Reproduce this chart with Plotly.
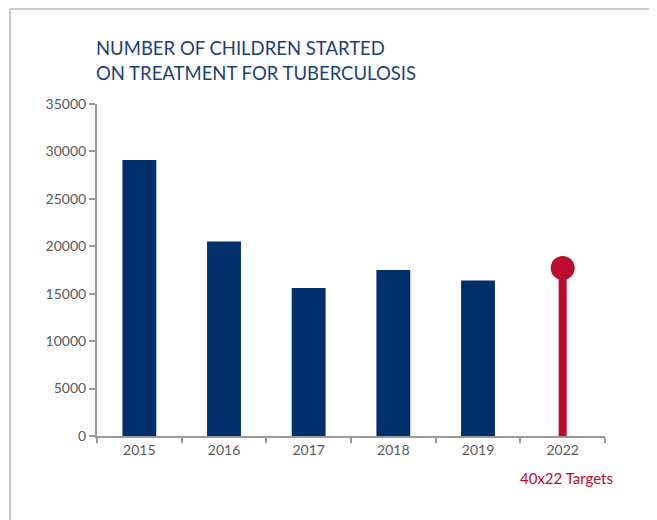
import plotly.graph_objects as go

years = ["2015", "2016", "2017", "2018", "2019", "2022"]
bar_years = ["2015", "2016", "2017", "2018", "2019"]
bar_values = [29100, 20500, 15600, 17500, 16400]
target_year = "2022"
target_value = 17700

title_lines = ["NUMBER OF CHILDREN STARTED", "ON TREATMENT FOR TUBERCULOSIS"]
target_label = "40x22 Targets"

NAVY = "#002F6C"
RED = "#BA0C2F"
AXIS = "#9a9a9a"
TXT = "#595959"
FONT = "Lato, 'Open Sans', sans-serif"

fig = go.Figure()
fig.add_trace(go.Bar(x=bar_years, y=bar_values, marker=dict(color=NAVY, line=dict(width=0)),
                     width=0.4, showlegend=False, hoverinfo="x+y"))
fig.add_trace(go.Scatter(x=[target_year, target_year], y=[0, target_value], mode="lines",
                         line=dict(color=RED, width=8), showlegend=False, hoverinfo="skip"))
fig.add_trace(go.Scatter(x=[target_year], y=[target_value], mode="markers",
                         marker=dict(color=RED, size=24), showlegend=False))

OFF = 8  # page body margin
W, H = 657, 520
L, T = 97 - OFF, 104 - OFF
pw, ph = 508, 332
R = W - L - pw
B = H - T - ph

def px(x):
    return (x - OFF - L) / pw

def py(y):
    return (T + ph - (y - OFF)) / ph

fig.update_layout(
    width=W, height=H,
    margin=dict(l=L, r=R, t=T, b=B, pad=0),
    paper_bgcolor="white", plot_bgcolor="white",
    font=dict(family=FONT, size=14, color=TXT),
    xaxis=dict(type="category", categoryorder="array", categoryarray=years,
               range=[-0.5, len(years) - 0.5], autorange=False,
               showline=True, linecolor=AXIS, linewidth=2,
               ticks="outside", tickson="boundaries", ticklen=5, tickcolor=AXIS, tickwidth=2,
               showgrid=False, zeroline=False, tickangle=0, tickfont=dict(size=14, color=TXT)),
    yaxis=dict(range=[0, 35000], dtick=5000, showline=True, linecolor=AXIS, linewidth=2,
               ticks="outside", ticklen=6, tickcolor=AXIS, tickwidth=2,
               showgrid=False, zeroline=False, tickformat="d",
               tickfont=dict(size=14, color=TXT)),
    shapes=[
        dict(type="line", xref="paper", yref="paper", x0=px(10), x1=px(665), y0=py(9), y1=py(9),
             line=dict(color="#c8c8c8", width=2)),
        dict(type="line", xref="paper", yref="paper", x0=px(10), x1=px(10), y0=py(9), y1=py(530),
             line=dict(color="#c8c8c8", width=2)),
    ],
    annotations=[
        dict(text=title_lines[0], xref="paper", yref="paper", x=px(94), y=py(48),
             xanchor="left", yanchor="middle", showarrow=False,
             font=dict(family=FONT, size=18.5, color="#1C3F7A")),
        dict(text=title_lines[1], xref="paper", yref="paper", x=px(94), y=py(73),
             xanchor="left", yanchor="middle", showarrow=False,
             font=dict(family=FONT, size=18.5, color="#1C3F7A")),
        dict(text=target_label, xref="x", yref="paper", x=years.index(target_year), y=py(478),
             xanchor="center", yanchor="middle", showarrow=False, xshift=4,
             font=dict(family=FONT, size=15, color=RED)),
    ],
)

fig.write_html("out.html")
